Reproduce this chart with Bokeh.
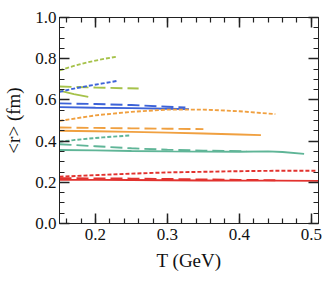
from bokeh.plotting import figure
from bokeh.models import FixedTicker, LinearAxis, Range1d, PrintfTickFormatter
from bokeh.embed import file_html
from bokeh.resources import INLINE

# ---- data ----
green_sd_T = [0.15, 0.17, 0.19, 0.21, 0.23]
green_sd_r = [0.743, 0.765, 0.783, 0.798, 0.810]
green_ld_T = [0.15, 0.20, 0.26]
green_ld_r = [0.665, 0.660, 0.655]
green_s_T = [0.15, 0.17, 0.19]
green_s_r = [0.645, 0.628, 0.615]

blue_sd_T = [0.15, 0.17, 0.19, 0.21, 0.23]
blue_sd_r = [0.639, 0.655, 0.668, 0.680, 0.692]
blue_ld_T = [0.15, 0.20, 0.25, 0.30, 0.325]
blue_ld_r = [0.583, 0.580, 0.575, 0.567, 0.563]
blue_s_T = [0.15, 0.20, 0.25, 0.30, 0.33]
blue_s_r = [0.565, 0.562, 0.560, 0.557, 0.555]

orange_sd_T = [0.15, 0.20, 0.25, 0.30, 0.35, 0.40, 0.45]
orange_sd_r = [0.498, 0.525, 0.542, 0.553, 0.553, 0.545, 0.531]
orange_ld_T = [0.15, 0.20, 0.25, 0.30, 0.35]
orange_ld_r = [0.466, 0.464, 0.462, 0.460, 0.458]
orange_s_T = [0.15, 0.20, 0.25, 0.30, 0.35, 0.40, 0.43]
orange_s_r = [0.450, 0.448, 0.445, 0.441, 0.437, 0.432, 0.429]

teal_sd_T = [0.15, 0.17, 0.19, 0.21, 0.23, 0.247]
teal_sd_r = [0.397, 0.405, 0.412, 0.418, 0.423, 0.427]
teal_ld_T = [0.15, 0.20, 0.25, 0.30, 0.35, 0.41]
teal_ld_r = [0.385, 0.375, 0.365, 0.358, 0.354, 0.351]
teal_s_T = [0.15, 0.20, 0.25, 0.30, 0.35, 0.40, 0.44, 0.46, 0.49]
teal_s_r = [0.357, 0.355, 0.352, 0.350, 0.349, 0.348, 0.350, 0.347, 0.338]

red_sd_T = [0.15, 0.20, 0.25, 0.30, 0.35, 0.40, 0.45, 0.506]
red_sd_r = [0.227, 0.235, 0.242, 0.248, 0.251, 0.254, 0.256, 0.256]
red_ld_T = [0.15, 0.20, 0.25, 0.30, 0.35, 0.40, 0.45]
red_ld_r = [0.220, 0.219, 0.218, 0.216, 0.214, 0.212, 0.210]
red_s_T = [0.15, 0.20, 0.25, 0.30, 0.35, 0.40, 0.45, 0.51]
red_s_r = [0.212, 0.212, 0.211, 0.210, 0.209, 0.208, 0.208, 0.207]

x_ticks = [0.2, 0.3, 0.4, 0.5]
y_ticks = [0.0, 0.2, 0.4, 0.6, 0.8, 1.0]
x_min, x_max = 0.15, 0.51
y_min, y_max = 0.0, 1.0

GREEN = "#a6c24a"
BLUE = "#3d63d8"
ORANGE = "#f0a040"
TEAL = "#5fb597"
RED = "#e2322e"
SHORT = "4 2"
LONG = "12 5"
FONT = "Liberation Serif"
AX = "#222222"

p = figure(frame_width=259, frame_height=206, output_backend="svg", toolbar_location=None,
           x_range=Range1d(x_min, x_max), y_range=Range1d(y_min, y_max),
           min_border_left=54, min_border_right=4, min_border_top=17,
           min_border_bottom=48, x_axis_label="T (GeV)", y_axis_label="<r> (fm)")
p.grid.visible = False
p.outline_line_color = AX

series = [
    (green_sd_T, green_sd_r, GREEN, SHORT), (green_ld_T, green_ld_r, GREEN, LONG),
    (green_s_T, green_s_r, GREEN, "solid"),
    (blue_sd_T, blue_sd_r, BLUE, SHORT), (blue_ld_T, blue_ld_r, BLUE, LONG),
    (blue_s_T, blue_s_r, BLUE, "solid"),
    (orange_sd_T, orange_sd_r, ORANGE, SHORT), (orange_ld_T, orange_ld_r, ORANGE, LONG),
    (orange_s_T, orange_s_r, ORANGE, "solid"),
    (teal_sd_T, teal_sd_r, TEAL, SHORT), (teal_ld_T, teal_ld_r, TEAL, LONG),
    (teal_s_T, teal_s_r, TEAL, "solid"),
    (red_sd_T, red_sd_r, RED, SHORT), (red_ld_T, red_ld_r, RED, LONG),
    (red_s_T, red_s_r, RED, "solid"),
]
for xs, ys, c, d in series:
    p.line(xs, ys, line_color=c, line_width=1.9, line_dash=d)

xminor = [round(0.16 + 0.02 * i, 2) for i in range(18)]
yminor = [round(0.05 * i, 2) for i in range(21)]

def style(ax, ticks, minor):
    ax.ticker = FixedTicker(ticks=ticks, minor_ticks=minor)
    ax.axis_line_color = AX
    ax.major_tick_line_color = AX
    ax.minor_tick_line_color = AX
    ax.major_tick_line_width = 1.5
    ax.minor_tick_line_width = 1.2
    ax.major_tick_in = 10
    ax.major_tick_out = 0
    ax.minor_tick_in = 5
    ax.minor_tick_out = 0
    ax.major_label_text_font = FONT
    ax.major_label_text_font_size = "17px"
    ax.major_label_text_color = "#111111"
    ax.axis_label_text_font = FONT
    ax.axis_label_text_font_size = "19px"
    ax.axis_label_text_font_style = "normal"
    ax.axis_label_text_color = "#111111"

style(p.xaxis[0], x_ticks, xminor)
style(p.yaxis[0], y_ticks, yminor)
p.xaxis[0].major_label_standoff = 5
p.yaxis[0].major_label_standoff = 3
p.xaxis[0].axis_label_standoff = 7
p.yaxis[0].axis_label_standoff = 8
p.yaxis[0].formatter = PrintfTickFormatter(format="%.1f")
p.xaxis[0].formatter = PrintfTickFormatter(format="%.1f")

top = LinearAxis()
style(top, x_ticks, xminor)
top.major_label_text_color = None
top.major_label_standoff = 0
p.add_layout(top, "above")
right = LinearAxis()
style(right, y_ticks, yminor)
right.major_label_text_color = None
right.major_label_standoff = 0
p.add_layout(right, "right")

open("out.html", "w").write(file_html(p, INLINE))
